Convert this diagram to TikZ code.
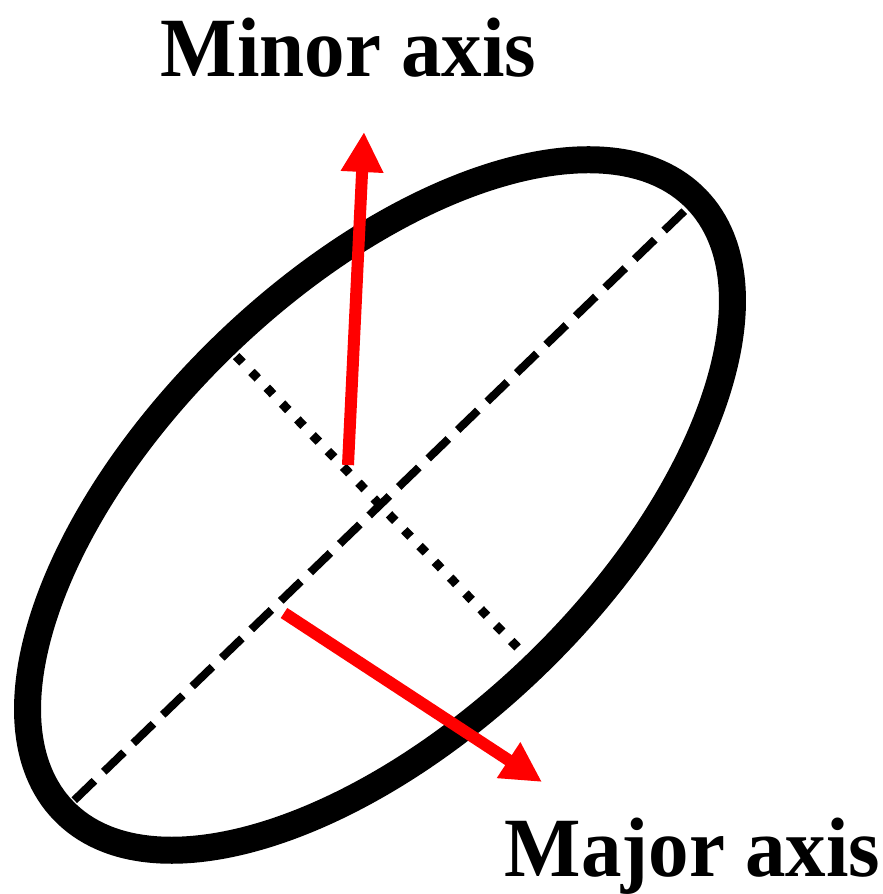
\documentclass[tikz,border=0pt]{standalone}
\usepackage{fontspec}
\setmainfont{Liberation Serif}
\usetikzlibrary{arrows.meta,calc}
\definecolor{axisRed}{RGB}{255,0,0}

\begin{document}
\begin{tikzpicture}[
    ring/.style={line width=0.27cm},
    majorline/.style={line width=0.08cm,dash pattern=on 0.28cm off 0.13cm},
    minorline/.style={line width=0.09cm,dash pattern=on 0.09cm off 0.13cm},
    redarrow/.style={axisRed,line width=0.12cm,-{Triangle[length=0.4cm,width=0.4cm]}},
    label/.style={font=\fontsize{24}{28}\selectfont\bfseries,xscale=0.96,inner sep=0pt,anchor=base west}]
  \useasboundingbox (0,0) rectangle (8.83,8.94);
  \coordinate (ctr) at (3.80,3.89);
  % ellipse and its two axes
  \draw[ring,rotate around={44:(ctr)}] (ctr) ellipse [x radius=4.40,y radius=2.23];
  \coordinate (majA) at ($(ctr)+(224:4.25)$); \coordinate (majB) at ($(ctr)+(44:4.25)$);
  \coordinate (minA) at ($(ctr)+(134:2.07)$); \coordinate (minB) at ($(ctr)+(-46:2.07)$);
  \draw[majorline] (majA) -- (majB);
  \draw[minorline] (minA) -- (minB);
  % red arrows
  \coordinate (minTail) at (3.48,4.29); \coordinate (minTip) at (3.64,7.62);
  \coordinate (majTail) at (2.84,2.81); \coordinate (majTip) at (5.42,1.12);
  \draw[redarrow] (minTail) -- (minTip);
  \draw[redarrow] (majTail) -- (majTip);
  \node[label] (minText) at (1.60,8.17) {Minor axis};
  \node[label] (majText) at (5.04,0.17) {Major axis};
\end{tikzpicture}
\end{document}
